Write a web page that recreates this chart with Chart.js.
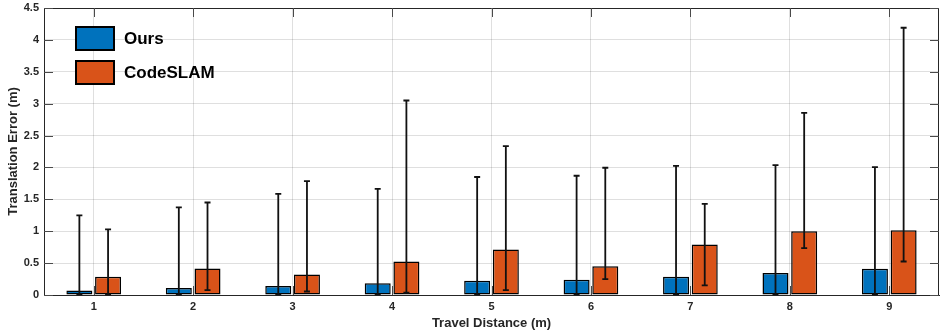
<!DOCTYPE html>
<html>
<head>
<meta charset="utf-8">
<script src="https://cdn.jsdelivr.net/npm/chart.js@4.4.1/dist/chart.umd.min.js"></script>
<style>
  html, body { margin: 0; padding: 0; background: #fff; }
  #wrap { width: 940px; height: 330px; }
</style>
</head>
<body>
<div id="wrap"><canvas id="c" width="940" height="330"></canvas></div>
<script>
// ---- data ----
const categories = ['1', '2', '3', '4', '5', '6', '7', '8', '9'];
const seriesNames = ['Ours', 'CodeSLAM'];
const oursMean = [0.07, 0.11, 0.14, 0.185, 0.225, 0.24, 0.285, 0.345, 0.41];
const oursLow  = [0.01, 0.01, 0.01, 0.01, 0.01, 0.01, 0.01, 0.01, 0.01];
const oursHigh = [1.25, 1.375, 1.585, 1.665, 1.85, 1.87, 2.025, 2.035, 2.005];
const codeMean = [0.285, 0.415, 0.32, 0.525, 0.715, 0.45, 0.79, 1.0, 1.015];
const codeLow  = [0.01, 0.075, 0.055, 0.035, 0.075, 0.25, 0.15, 0.735, 0.525];
const codeHigh = [1.03, 1.45, 1.785, 3.05, 2.335, 1.995, 1.43, 2.855, 4.19];
const yMin = 0, yMax = 4.5, yStep = 0.5;
const xTitle = 'Travel Distance (m)';
const yTitle = 'Translation Error (m)';

const FONT = "'Liberation Sans', Arial, Helvetica, sans-serif";
const AXIS_COLOR = '#262626';
const GRID_COLOR = 'rgba(38,38,38,0.15)';
const TICK_LEN = 9;

const errorBarPlugin = {
  id: 'errorBars',
  afterDatasetsDraw(chart) {
    const ctx = chart.ctx;
    const y = chart.scales.y;
    chart.data.datasets.forEach((ds, di) => {
      const meta = chart.getDatasetMeta(di);
      meta.data.forEach((bar, i) => {
        const x = bar.x;
        const yl = y.getPixelForValue(ds.errLow[i]);
        const yh = y.getPixelForValue(ds.errHigh[i]);
        ctx.save();
        ctx.strokeStyle = '#111';
        ctx.lineWidth = 1.8;
        ctx.beginPath();
        ctx.moveTo(x, yl); ctx.lineTo(x, yh);
        ctx.moveTo(x - 3, yl); ctx.lineTo(x + 3, yl);
        ctx.moveTo(x - 3, yh); ctx.lineTo(x + 3, yh);
        ctx.stroke();
        ctx.restore();
      });
    });
  }
};

const boxPlugin = {
  id: 'matlabBox',
  afterDatasetsDraw(chart) {
    const ctx = chart.ctx;
    const a = chart.chartArea;
    const xs = chart.scales.x, ys = chart.scales.y;
    ctx.save();
    ctx.strokeStyle = AXIS_COLOR;
    ctx.lineWidth = 1;
    ctx.beginPath();
    ctx.moveTo(a.left, a.top + 0.5); ctx.lineTo(a.right, a.top + 0.5);
    ctx.moveTo(a.right - 0.5, a.top); ctx.lineTo(a.right - 0.5, a.bottom);
    ctx.stroke();
    ctx.strokeStyle = '#4a4a4a';
    ctx.beginPath();
    xs.ticks.forEach((t, i) => {
      const px = Math.round(xs.getPixelForTick(i)) + 0.5;
      ctx.moveTo(px, a.top); ctx.lineTo(px, a.top + TICK_LEN);
      ctx.moveTo(px, a.bottom); ctx.lineTo(px, a.bottom - TICK_LEN);
    });
    ys.ticks.forEach((t) => {
      const py = Math.round(ys.getPixelForValue(t.value)) + 0.5;
      ctx.moveTo(a.left, py); ctx.lineTo(a.left + TICK_LEN, py);
      ctx.moveTo(a.right, py); ctx.lineTo(a.right - TICK_LEN, py);
    });
    ctx.stroke();
    ctx.restore();
  },
  afterDraw(chart) {
    const ctx = chart.ctx;
    ctx.save();
    chart.data.datasets.forEach((ds, i) => {
      const x0 = 76, y0 = 27 + i * 34, w = 38, h = 23;
      ctx.fillStyle = ds.backgroundColor;
      ctx.fillRect(x0, y0, w, h);
      ctx.strokeStyle = '#000';
      ctx.lineWidth = 2;
      ctx.strokeRect(x0, y0, w, h);
      ctx.fillStyle = '#000';
      ctx.font = 'bold 17px ' + FONT;
      ctx.textBaseline = 'middle';
      ctx.textAlign = 'left';
      ctx.fillText(ds.label, 124, y0 + h / 2 + 1);
    });
    ctx.restore();
  }
};

new Chart(document.getElementById('c'), {
  type: 'bar',
  data: {
    labels: categories,
    datasets: [
      { label: seriesNames[0], data: oursMean, errLow: oursLow, errHigh: oursHigh,
        backgroundColor: '#0072BD', borderColor: '#000', borderWidth: 1.5, borderSkipped: false },
      { label: seriesNames[1], data: codeMean, errLow: codeLow, errHigh: codeHigh,
        backgroundColor: '#D95319', borderColor: '#000', borderWidth: 1.5, borderSkipped: false }
    ]
  },
  options: {
    responsive: false,
    animation: false,
    devicePixelRatio: 1,
    categoryPercentage: 0.577,
    barPercentage: 0.906,
    layout: { padding: { top: 8, right: 1, left: 0, bottom: 0 } },
    plugins: { legend: { display: false }, tooltip: { enabled: false } },
    scales: {
      x: {
        offset: true,
        grid: { offset: false, color: GRID_COLOR, drawTicks: false },
        border: { display: true, color: AXIS_COLOR, width: 1 },
        ticks: { color: AXIS_COLOR, font: { family: FONT, size: 11, weight: 'bold' }, padding: 5, maxRotation: 0 },
        title: { display: true, text: xTitle, color: AXIS_COLOR,
                 font: { family: FONT, size: 13, weight: 'bold', lineHeight: 1 }, padding: 0 },
        afterFit(s) { s.height = 35; s.paddingLeft = 0; s.paddingRight = 0; }
      },
      y: {
        min: yMin, max: yMax,
        grid: { color: GRID_COLOR, drawTicks: false },
        border: { display: true, color: AXIS_COLOR, width: 1 },
        ticks: { stepSize: yStep, color: AXIS_COLOR, font: { family: FONT, size: 11, weight: 'bold' }, padding: 5,
                 callback: (v) => String(Math.round(v * 100) / 100) },
        title: { display: true, text: yTitle, color: AXIS_COLOR,
                 font: { family: FONT, size: 13, weight: 'bold', lineHeight: 1 }, padding: { top: 7, bottom: 0 } },
        afterFit(s) { s.width = 44; s.paddingTop = 0; s.paddingBottom = 0; }
      }
    }
  },
  plugins: [errorBarPlugin, boxPlugin]
});
</script>
</body>
</html>
